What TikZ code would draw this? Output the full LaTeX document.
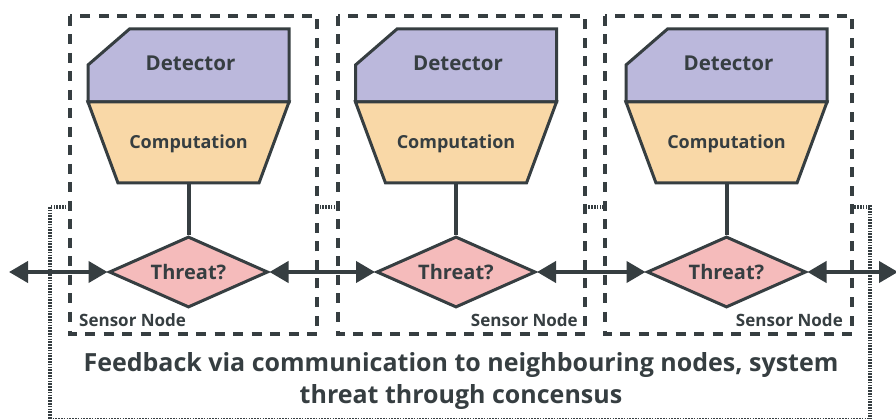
\documentclass[tikz,border=0pt]{standalone}
\usepackage{fontspec}
\setmainfont{Open Sans}
\usetikzlibrary{shapes.geometric,arrows.meta}
\definecolor{ink}{HTML}{363E41}
\definecolor{detfill}{HTML}{BBB8DC}
\definecolor{compfill}{HTML}{F9D8A7}
\definecolor{thrfill}{HTML}{F5BBBB}
\tikzset{
  nodebox/.style={draw=ink,fill=white,line width=4pt,dash pattern=on 10pt off 8.5pt},
  feedback/.style={draw=ink,line width=4pt,dash pattern=on 1.6pt off 1.2pt},
  detshape/.style={draw=ink,fill=detfill,line width=3pt,line join=miter},
  compshape/.style={draw=ink,fill=compfill,line width=3pt,line join=miter},
  lbl/.style={text=ink,font=\bfseries\fontsize{20.5}{24}\selectfont,inner sep=0pt},
  complbl/.style={text=ink,font=\bfseries\fontsize{18}{22}\selectfont,inner sep=0pt},
  threat/.style={shape=diamond,draw=ink,fill=thrfill,line width=3pt,minimum width=159pt,minimum height=71pt,aspect=2.24,inner sep=0pt,text=ink,font=\bfseries\fontsize{20}{24}\selectfont},
  sensorlbl/.style={text=ink,font=\bfseries\fontsize{17}{20}\selectfont,inner sep=0pt},
  stem/.style={draw=ink,line width=4pt},
  link/.style={draw=ink,line width=4pt,{Triangle[length=19pt,width=21pt]}-{Triangle[length=19pt,width=21pt]}},
  mainlbl/.style={text=ink,align=center,font=\bfseries\fontsize{25}{32}\selectfont,inner sep=0pt}
}
\begin{document}
\begin{tikzpicture}[x=1pt,y=-1pt]
\useasboundingbox (0,0) rectangle (896,419);
% feedback loop (dotted)
\draw[feedback] (50,207) rectangle (870,420);
% sensor node boxes
\draw[nodebox] (70,16) rectangle (317,334);
\draw[nodebox] (338,16) rectangle (585,334);
\draw[nodebox] (605,16) rectangle (852,334);
% units
\foreach \c/\i in {188.5/1,456/2,726.5/3}{
  \draw[detshape] (\c-100.5,102) -- (\c-100.5,65) -- (\c-59,29) -- (\c+100.5,29) -- (\c+100.5,102) -- cycle;
  \draw[compshape] (\c-100.5,102) -- (\c+100.5,102) -- (\c+70.5,183) -- (\c-70.5,183) -- cycle;
  \node[lbl] (det\i) at (\c+2,63) {Detector};
  \node[complbl] (comp\i) at (\c,144) {Computation};
  \coordinate (cb\i) at (\c,183);
  \node[threat] (thr\i) at (\c,272) {Threat?};
  \draw[stem] (cb\i) -- (thr\i.north);
}
\node[sensorlbl,anchor=west] (sn1) at (79,320) {Sensor Node};
\node[sensorlbl,anchor=east] (sn2) at (578,320) {Sensor Node};
\node[sensorlbl,anchor=east] (sn3) at (843,320) {Sensor Node};
% communication links
\coordinate (lend) at (9,272);
\coordinate (rend) at (898,272);
\draw[link] (lend) -- (thr1.west);
\draw[link] (thr1.east) -- (thr2.west);
\draw[link] (thr2.east) -- (thr3.west);
\draw[link] (thr3.east) -- (rend);
\node[mainlbl] (fb) at (461,381) {Feedback via communication to neighbouring nodes, system\\threat through concensus};
\end{tikzpicture}
\end{document}
